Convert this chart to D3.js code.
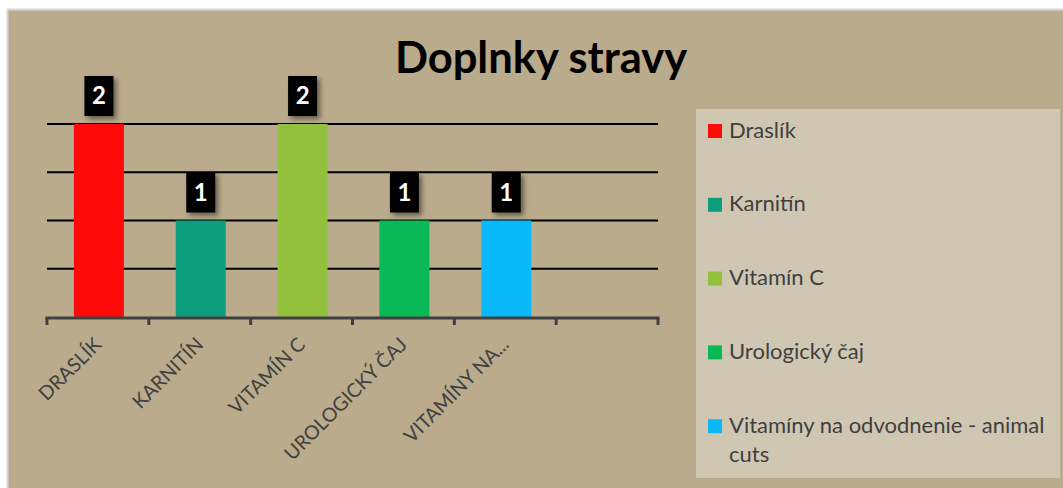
<!DOCTYPE html>
<html>
<head>
<meta charset="utf-8">
<script src="https://cdn.jsdelivr.net/npm/d3@7"></script>
<style>
  body { margin: 0; background: #fff; }
  svg { display: block; }
</style>
</head>
<body>
<div id="chart"></div>
<script>
var categories = ["Draslík", "Karnitín", "Vitamín C", "Urologický čaj", "Vitamíny na odvodnenie - animal cuts"];
var axisLabels = ["DRASLÍK", "KARNITÍN", "VITAMÍN C", "UROLOGICKÝ ČAJ", "VITAMÍNY NA..."];
var values = [2, 1, 2, 1, 1];
var colors = ["#fe0a0a", "#0d9e7e", "#93c13e", "#08b955", "#0bb9fa"];
var slots = ["0", "1", "2", "3", "4", "5"]; // last slot empty
var gridValues = [0.5, 1, 1.5, 2];

var W = 1063, H = 488;
var font = "Lato, 'Open Sans', sans-serif";
var svg = d3.select("#chart").append("svg")
    .attr("width", W)
    .attr("height", H);

var defs = svg.append("defs");
var f = defs.append("filter").attr("id", "shadow")
    .attr("x", "-30%").attr("y", "-30%").attr("width", "170%").attr("height", "170%");
f.append("feDropShadow").attr("dx", 3).attr("dy", 3).attr("stdDeviation", 2.5)
    .attr("flood-color", "#000").attr("flood-opacity", 0.45);

// chart background
svg.append("rect")
    .attr("x", 7.5).attr("y", 9.5)
    .attr("width", W).attr("height", H)
    .attr("fill", "#b9ab8b")
    .attr("stroke", "#d6d6d6")
    .attr("stroke-width", 2);

var plot = { left: 47, right: 658, top: 124, bottom: 317 };

var x = d3.scaleBand()
    .domain(slots)
    .range([plot.left, plot.right])
    .paddingInner(0);

var y = d3.scaleLinear()
    .domain([0, 2])
    .range([plot.bottom, plot.top]);

// gridlines
svg.append("g").selectAll("line")
    .data(gridValues)
    .enter().append("line")
    .attr("x1", plot.left).attr("x2", plot.right)
    .attr("y1", function(d) { return y(d); })
    .attr("y2", function(d) { return y(d); })
    .attr("stroke", "#000")
    .attr("stroke-width", 2);

// bars
var barW = 50;
svg.append("g").selectAll("rect")
    .data(values)
    .enter().append("rect")
    .attr("x", function(d, i) { return x(String(i)) + x.bandwidth() / 2 - barW / 2 + 1; })
    .attr("y", function(d) { return y(d); })
    .attr("width", barW)
    .attr("height", function(d) { return y(0) - y(d); })
    .attr("fill", function(d, i) { return colors[i]; });

// value labels
var lab = svg.append("g").selectAll("g")
    .data(values)
    .enter().append("g")
    .attr("transform", function(d, i) {
        return "translate(" + (x(String(i)) + x.bandwidth() / 2 + 1) + "," + (y(d) - 8) + ")";
    });
lab.append("rect")
    .attr("x", -14.5).attr("y", -40)
    .attr("width", 29).attr("height", 40)
    .attr("fill", "#000")
    .attr("filter", "url(#shadow)");
lab.append("text")
    .attr("x", 0).attr("y", -12)
    .attr("text-anchor", "middle")
    .attr("fill", "#fff")
    .style("font-family", font)
    .style("font-weight", "bold")
    .style("font-size", "24px")
    .text(function(d) { return d; });

// x axis
var ax = svg.append("g")
    .attr("transform", "translate(0," + (plot.bottom + 1) + ")");
ax.append("line")
    .attr("x1", plot.left - 1.5).attr("x2", plot.right + 1.5)
    .attr("y1", 0).attr("y2", 0)
    .attr("stroke", "#404040").attr("stroke-width", 3);
var tickPos = slots.map(function(s) { return x(s); }).concat([plot.right]);
ax.selectAll(".tk")
    .data(tickPos)
    .enter().append("line")
    .attr("class", "tk")
    .attr("x1", function(d) { return d; }).attr("x2", function(d) { return d; })
    .attr("y1", 0).attr("y2", 7)
    .attr("stroke", "#404040").attr("stroke-width", 3);

ax.selectAll(".xl")
    .data(axisLabels)
    .enter().append("text")
    .attr("class", "xl")
    .attr("transform", function(d, i) {
        return "translate(" + (x(String(i)) + x.bandwidth() / 2) + ",23) rotate(-45)";
    })
    .attr("dy", "0.35em")
    .attr("text-anchor", "end")
    .attr("fill", "#404040")
    .style("font-family", font)
    .style("font-size", "19.5px")
    .text(function(d) { return d; });

// title
svg.append("text")
    .attr("x", 541).attr("y", 73)
    .attr("text-anchor", "middle")
    .attr("fill", "#000")
    .style("font-family", font)
    .style("font-weight", "bold")
    .style("font-size", "43.5px")
    .text("Doplnky stravy");

// legend
var lg = svg.append("g");
lg.append("rect")
    .attr("x", 696).attr("y", 109)
    .attr("width", 364).attr("height", 369)
    .attr("fill", "#d0c7b3");
var item = lg.selectAll(".li")
    .data(categories)
    .enter().append("g")
    .attr("class", "li")
    .attr("transform", function(d, i) { return "translate(708," + (124 + i * 73.8) + ")"; });
item.append("rect")
    .attr("width", 14).attr("height", 14)
    .attr("fill", function(d, i) { return colors[i]; });
item.append("text")
    .attr("x", 21).attr("y", 13.5)
    .attr("fill", "#404040")
    .style("font-family", font)
    .style("font-size", "22px")
    .each(function(d) {
        var t = d3.select(this);
        if (d.length > 30) {
            t.append("tspan").attr("x", 21).text("Vitamíny na odvodnenie - animal");
            t.append("tspan").attr("x", 21).attr("dy", 29).text("cuts");
        } else {
            t.text(d);
        }
    });
</script>
</body>
</html>
